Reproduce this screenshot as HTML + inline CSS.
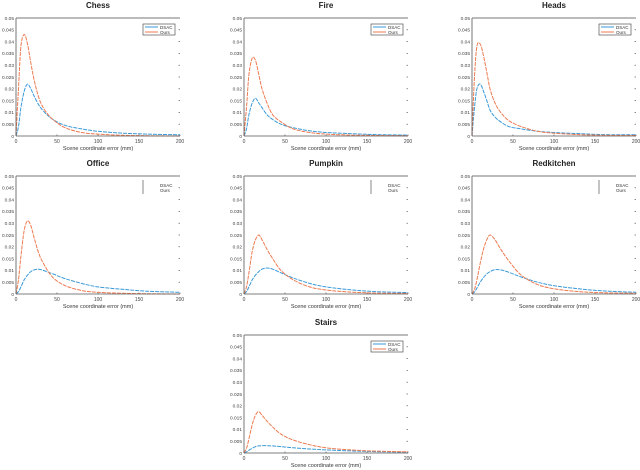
<!DOCTYPE html>
<html><head><meta charset="utf-8"><style>
html,body{margin:0;padding:0;background:#fff;}
svg{display:block;font-family:"Liberation Sans",sans-serif;}
</style></head><body>
<svg id="fig" width="640" height="470" viewBox="0 0 640 470"></svg>
<script>
const xGrid=[0,3,6,10,14,18,22,28,35,45,60,80,100,130,160,200];
const yTicks=[0,0.005,0.01,0.015,0.02,0.025,0.03,0.035,0.04,0.045,0.05];
const yTickLabels=["0","0.005","0.01","0.015","0.02","0.025","0.03","0.035","0.04","0.045","0.05"];
const xTicks=[0,50,100,150,200];
const seriesNames=["DSAC","Ours"];
const panelTitles=["Chess","Fire","Heads","Office","Pumpkin","Redkitchen","Stairs"];
const chessDSAC=[0,.004,.012,.019,.022,.02,.017,.013,.01,.007,.0045,.003,.002,.0012,.0008,.0005];
const chessOurs=[0,.02,.038,.043,.039,.031,.024,.016,.011,.007,.0035,.0015,.0008,.0003,.0001,0];
const fireDSAC=[0,.003,.009,.014,.016,.014,.012,.009,.007,.005,.0035,.0022,.0015,.001,.0006,.0004];
const fireOurs=[0,.012,.026,.033,.032,.026,.02,.014,.009,.006,.003,.0015,.0008,.0004,.0002,.0001];
const headsDSAC=[0,.012,.02,.022,.019,.015,.011,.008,.006,.004,.003,.002,.0015,.001,.0006,.0005];
const headsOurs=[0,.025,.038,.039,.034,.027,.02,.014,.01,.0065,.004,.002,.0012,.0006,.0003,.0002];
const officeDSAC=[0,.001,.003,.006,.008,.0095,.0102,.0105,.0098,.0085,.0065,.0045,.003,.002,.0012,.0007];
const officeOurs=[0,.006,.016,.027,.031,.029,.024,.017,.012,.007,.0035,.0015,.0007,.0003,.0001,0];
const pumpkinDSAC=[0,.001,.003,.006,.008,.0095,.0105,.011,.0105,.009,.0068,.0045,.003,.0018,.001,.0006];
const pumpkinOurs=[0,.003,.009,.018,.023,.025,.023,.019,.015,.01,.006,.003,.0017,.0008,.0004,.0002];
const redkitchenDSAC=[0,.0008,.0025,.005,.007,.0085,.0095,.0103,.0102,.0092,.0072,.005,.0035,.0022,.0013,.0007];
const redkitchenOurs=[0,.002,.006,.013,.019,.023,.025,.023,.019,.014,.008,.004,.0022,.001,.0005,.0003];
const stairsDSAC=[0,.0005,.0012,.002,.0027,.003,.0031,.0031,.003,.0027,.0022,.0017,.0013,.0009,.0006,.0004];
const stairsOurs=[0,.002,.006,.012,.016,.0175,.016,.0135,.011,.008,.0055,.0035,.0022,.0013,.0008,.0005];
const allDSAC=[chessDSAC,fireDSAC,headsDSAC,officeDSAC,pumpkinDSAC,redkitchenDSAC,stairsDSAC];
const allOurs=[chessOurs,fireOurs,headsOurs,officeOurs,pumpkinOurs,redkitchenOurs,stairsOurs];

const NS="http://www.w3.org/2000/svg";
const svg=document.getElementById('fig');
function mk(tag,attrs,parent){const e=document.createElementNS(NS,tag);for(const k in attrs)e.setAttribute(k,attrs[k]);(parent||svg).appendChild(e);return e;}
function smoothPath(p){
  let d='M'+p[0][0].toFixed(1)+','+p[0][1].toFixed(1);
  for(let k=0;k<p.length-1;k++){
    const p0=p[k-1]||p[k],p1=p[k],p2=p[k+1],p3=p[k+2]||p2;
    const c1x=p1[0]+(p2[0]-p0[0])/6,c1y=p1[1]+(p2[1]-p0[1])/6;
    const c2x=p2[0]-(p3[0]-p1[0])/6,c2y=p2[1]-(p3[1]-p1[1])/6;
    d+=' C'+c1x.toFixed(1)+','+c1y.toFixed(1)+' '+c2x.toFixed(1)+','+c2y.toFixed(1)+' '+p2[0].toFixed(1)+','+p2[1].toFixed(1);
  }
  return d;
}
const boxes=[[16,18],[244,18],[472,18],[16,176],[244,176],[472,176],[244,335]];
const W=164,H=118;
const colors=["#3a9ad9","#ee7a50"];
boxes.forEach((b,i)=>{
  const [L,T]=b;
  const g=mk('g',{});
  
  
  const xs=v=>L+v/200*W, ys=v=>T+H-v/0.05*H;
  const t=mk('text',{x:L+W/2,y:T-10,'text-anchor':'middle','font-size':8,'font-weight':'bold',fill:'#222'},g);
  t.textContent=panelTitles[i];
  
  
  yTicks.forEach((v,k)=>{
    const lab=mk('text',{x:L-2,y:ys(v)+1.8,'text-anchor':'end','font-size':4.8,fill:'#444'},g);
    lab.textContent=yTickLabels[k];
    
    
    mk('line',{x1:W+L-1.5,x2:W+L,y1:ys(v),y2:ys(v),stroke:'#444','stroke-width':.6},g);
  });
  xTicks.forEach(v=>{
    const lab=mk('text',{x:xs(v),y:T+H+7,'text-anchor':'middle','font-size':5,fill:'#444'},g);
    lab.textContent=String(v);
    
    
    mk('line',{x1:xs(v),x2:xs(v),y1:T+H,y2:T+H-1.5,stroke:'#444','stroke-width':.6},g);
  });
  const xl=mk('text',{x:L+W/2,y:T+H+14,'text-anchor':'middle','font-size':5.5,fill:'#333'},g);
  xl.textContent='Scene coordinate error (mm)';
  
  
  [allDSAC[i],allOurs[i]].forEach((arr,s)=>{
    const pts=arr.map((v,k)=>[xs(xGrid[k]),ys(v)]);
    const pl=mk('path',{d:smoothPath(pts),fill:'none',stroke:colors[s],'stroke-width':1,'stroke-dasharray':'4 1','stroke-linejoin':'round'},g);
    
    
  });
  mk('line',{x1:L,x2:L,y1:T,y2:T+H,stroke:'#555','stroke-width':.8},g);
  mk('line',{x1:L,x2:L+W,y1:T+H,y2:T+H,stroke:'#555','stroke-width':.8},g);
  mk('line',{x1:L,x2:L+W,y1:T,y2:T,stroke:'#777','stroke-width':1},g);
  const lg=mk('g',{},g);
  
  
  const row2=(i>=3&&i<=5);
  if(!row2){mk('rect',{x:L+127,y:T+6,width:32,height:11,fill:'#fff',stroke:'#555','stroke-width':.7},lg);}
  else{mk('line',{x1:L+127,x2:L+127,y1:T+4,y2:T+18,stroke:'#555','stroke-width':.7},lg);}
  seriesNames.forEach((n,s)=>{
    if(!row2) mk('line',{x1:L+129,x2:L+142,y1:T+9+s*5,y2:T+9+s*5,stroke:colors[s],'stroke-width':1},lg);
    const tx=mk('text',{x:L+144,y:T+11+s*5,'font-size':4.5,fill:'#333'},lg);
    tx.textContent=n;
    
    
  });
});
</script>
</body></html>
